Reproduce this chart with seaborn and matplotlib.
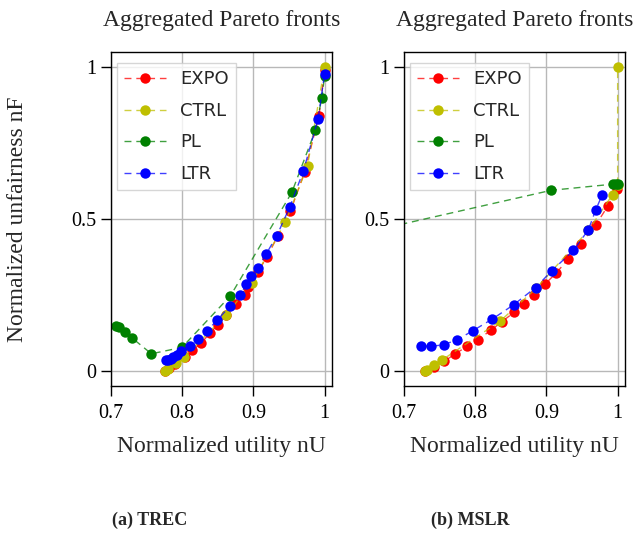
import matplotlib
matplotlib.use("Agg")
import matplotlib.pyplot as plt
from matplotlib.colors import to_rgba
import seaborn as sns

# (a) TREC: normalized utility / normalized unfairness per method
trec_expo_u = [0.776, 0.782, 0.790, 0.804, 0.814, 0.827, 0.839, 0.850, 0.862, 0.876, 0.888, 0.893,
               0.906, 0.919, 0.934, 0.952, 0.972, 0.992, 1.0]
trec_expo_f = [0.0, 0.008, 0.023, 0.047, 0.067, 0.091, 0.124, 0.151, 0.182, 0.221, 0.250, 0.275,
               0.324, 0.374, 0.442, 0.525, 0.654, 0.838, 0.99]
trec_ctrl_u = [0.776, 0.780, 0.791, 0.803, 0.862, 0.898, 0.945, 0.976, 1.0]
trec_ctrl_f = [0.0, 0.005, 0.025, 0.045, 0.184, 0.290, 0.489, 0.674, 1.0]
trec_pl_u = [0.708, 0.712, 0.720, 0.730, 0.757, 0.800, 0.868, 0.954, 0.987, 0.996, 1.0]
trec_pl_f = [0.148, 0.143, 0.127, 0.108, 0.056, 0.077, 0.247, 0.587, 0.791, 0.897, 0.971]
trec_ltr_u = [0.777, 0.780, 0.784, 0.788, 0.793, 0.798, 0.811, 0.822, 0.835, 0.849, 0.867, 0.882,
              0.890, 0.897, 0.906, 0.918, 0.933, 0.951, 0.970, 0.991, 1.0]
trec_ltr_f = [0.034, 0.036, 0.040, 0.045, 0.053, 0.064, 0.082, 0.104, 0.131, 0.166, 0.212, 0.250,
              0.285, 0.311, 0.338, 0.384, 0.445, 0.538, 0.656, 0.830, 0.978]

# (b) MSLR
mslr_expo_u = [0.730, 0.742, 0.757, 0.772, 0.789, 0.804, 0.823, 0.838, 0.855, 0.869, 0.883, 0.898,
               0.914, 0.931, 0.948, 0.969, 0.986, 0.999]
mslr_expo_f = [0.0, 0.014, 0.031, 0.056, 0.080, 0.102, 0.135, 0.162, 0.193, 0.221, 0.250, 0.285,
               0.322, 0.369, 0.417, 0.479, 0.541, 0.598]
mslr_ctrl_u = [0.730, 0.733, 0.742, 0.754, 0.835, 0.886, 0.959, 0.993, 1.0, 1.0]
mslr_ctrl_f = [0.0, 0.003, 0.020, 0.036, 0.163, 0.272, 0.462, 0.580, 0.610, 1.0]
mslr_pl_u = [0.55, 0.907, 0.993, 0.997, 1.0]
mslr_pl_f = [0.404, 0.594, 0.614, 0.615, 0.615]
mslr_ltr_u = [0.724, 0.738, 0.756, 0.775, 0.797, 0.824, 0.854, 0.885, 0.908, 0.938, 0.959, 0.969,
              0.978]
mslr_ltr_f = [0.082, 0.080, 0.086, 0.102, 0.132, 0.170, 0.217, 0.274, 0.330, 0.396, 0.464, 0.528,
              0.577]

methods = ["EXPO", "CTRL", "PL", "LTR"]
colors = ["r", "y", "g", "b"]
panels = [
    ("(a) TREC", [(trec_expo_u, trec_expo_f), (trec_ctrl_u, trec_ctrl_f),
                  (trec_pl_u, trec_pl_f), (trec_ltr_u, trec_ltr_f)]),
    ("(b) MSLR", [(mslr_expo_u, mslr_expo_f), (mslr_ctrl_u, mslr_ctrl_f),
                  (mslr_pl_u, mslr_pl_f), (mslr_ltr_u, mslr_ltr_f)]),
]

x_ticks = [0.7, 0.8, 0.9, 1.0]
x_tick_labels = ["0.7", "0.8", "0.9", "1"]
y_ticks = [0, 0.5, 1]
y_tick_labels = ["0", "0.5", "1"]

sns.set_style("ticks")
plt.rcParams['font.family'] = ['Liberation Serif', 'DejaVu Serif']
plt.rcParams['axes.edgecolor'] = 'black'
plt.rcParams['axes.linewidth'] = 1.0

fig = plt.figure(figsize=(6.37, 5.33), dpi=100)
axes = [fig.add_axes([0.1738, 0.2758, 0.347, 0.6272]),
        fig.add_axes([0.6338, 0.2758, 0.347, 0.6272])]

for ax, (caption, series) in zip(axes, panels):
    for (u, f), color, name in zip(series, colors, methods):
        sns.lineplot(x=u, y=f, ax=ax, sort=False, estimator=None, color=color,
                     linestyle=(0, (5, 3.5)), linewidth=1.0, marker="o", markersize=7.5,
                     markeredgewidth=0, label=name)
        line = ax.lines[-1]
        line.set_color(to_rgba(color, 0.75))
        line.set_markerfacecolor(color)
        line.set_markeredgecolor(color)

    ax.set_xlim(0.7, 1.01)
    ax.set_ylim(-0.05, 1.05)
    ax.set_xticks(x_ticks)
    ax.set_xticklabels(x_tick_labels)
    ax.set_yticks(y_ticks)
    ax.set_yticklabels(y_tick_labels)
    ax.tick_params(direction="out", length=7, width=1, labelsize=14.5, colors="black")
    ax.tick_params(axis="x", pad=6)
    ax.grid(True, color="#b8b8b8", linewidth=1)
    ax.set_axisbelow(True)
    for s in ax.spines.values():
        s.set_visible(True)
        s.set_color("black")
    ax.set_xlabel("Normalized utility nU", fontsize=17, labelpad=9)
    ax.set_ylabel("")
    ax.legend(loc="upper left", bbox_to_anchor=(0.028, 0.966), borderaxespad=0,
              prop={"family": "DejaVu Sans", "size": 13}, handlelength=2.3,
              labelspacing=0.75, fancybox=False, edgecolor="#cccccc", framealpha=0.8)

    pos = ax.get_position()
    cx = (pos.x0 + pos.x1) / 2
    fig.text(cx, 1 - 26 / 533, "Aggregated Pareto fronts", fontsize=17,
             ha="center", va="baseline")

fig.text(18 / 637, 0.2758 + 0.6272 / 2, "Normalized unfairness nF", fontsize=17,
         rotation=90, ha="center", va="center")
fig.text(149.5 / 637, 8 / 533, "(a) TREC", fontsize=13, fontweight="bold",
         ha="center", va="baseline")
fig.text(470 / 637, 8 / 533, "(b) MSLR", fontsize=13, fontweight="bold",
         ha="center", va="baseline")

fig.savefig("out.png", dpi=100)
